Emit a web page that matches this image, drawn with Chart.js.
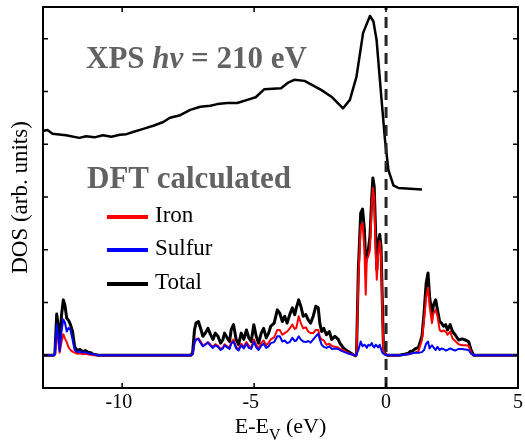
<!DOCTYPE html>
<html>
<head>
<meta charset="utf-8">
<title>DOS</title>
<script src="https://cdn.jsdelivr.net/npm/chart.js"></script>
<style>
    body { margin: 0; background: #fff; }
    canvas { display: block; }
</style>
</head>
<body>
<canvas id="dosChart" width="525" height="443"></canvas>
<script>
// DFT partial / total density of states, common energy grid (eV)
var energy = [
    -13, -12.6, -12.55, -12.48, -12.42, -12.37, -12.30, -12.23, -12.17, -12.10, -12.03, -11.96, -11.88, -11.80, -11.70, -11.60, -11.50, -11.40, -11.30, -11.20, -11.10, -11.00, -10.90,
    -7.40, -7.33, -7.26, -7.20, -7.11, -7.01, -6.94, -6.85, -6.75, -6.65, -6.56, -6.47, -6.37, -6.27, -6.18, -6.12, -6.02, -5.93, -5.87, -5.78, -5.68, -5.59, -5.49, -5.39, -5.29, -5.20, -5.11, -5.01, -4.92, -4.83, -4.73, -4.64, -4.54, -4.45, -4.37, -4.24, -4.12,
    -4.03, -3.93, -3.84, -3.75, -3.65, -3.55, -3.46, -3.40, -3.31, -3.23, -3.14, -3.04, -2.95, -2.86, -2.76, -2.66, -2.57, -2.51, -2.44, -2.36, -2.26, -2.15, -2.06, -1.94, -1.81, -1.75, -1.62, -1.43, -1.24, -1.16,
    -1.12, -1.05, -0.96, -0.89, -0.82, -0.77, -0.73, -0.67, -0.61, -0.54, -0.50, -0.45, -0.39, -0.35, -0.30, -0.24, -0.19, -0.14, -0.10, -0.04,
    0.05, 0.50, 0.70, 0.85, 0.91, 1.00, 1.10, 1.23, 1.36, 1.44, 1.52, 1.59, 1.65, 1.74, 1.80, 1.88, 1.95, 2.03, 2.10, 2.18, 2.26, 2.33, 2.43, 2.52, 2.62, 2.75, 2.88, 3.00, 3.13, 3.22, 3.32, 5.0
];
var iron = [
    0, 0, .02, .45, .28, .05, .25, .40, .32, .25, .15, .10, .07, .05, .03, .04, .02, .03, .02, .01, 0, 0, 0,
    0, .02, .22, .30, .32, .25, .18, .21, .25, .20, .16, .21, .18, .12, .15, .21, .17, .14, .24, .30, .16, .11, .22, .16, .25, .18, .14, .30, .20, .13, .23, .28, .19, .24, .30, .34, .48,
    .48, .39, .42, .45, .51, .58, .50, .52, .74, .61, .51, .53, .45, .42, .42, .48, .48, .35, .30, .28, .20, .22, .18, .16, .15, .12, .10, .04, .01, -.01,
    .01, 1.45, 2.45, 2.50, 2.00, 1.15, 1.81, 1.88, 2.00, 2.85, 3.17, 3.00, 1.90, 1.43, 1.90, 2.16, 1.90, .85, .10, .02,
    0, 0, .01, .02, .03, .04, .05, .08, .29, .67, 1.10, 1.28, .93, .61, .80, .86, .74, .48, .45, .47, .45, .39, .45, .32, .27, .21, .19, .19, .18, .05, 0, 0
];
var sulfur = [
    0, 0, .02, .58, .35, .08, .45, .68, .62, .45, .52, .48, .30, .10, .06, .07, .05, .06, .04, .03, .02, .01, 0,
    0, .02, .24, .30, .31, .22, .17, .20, .24, .18, .14, .19, .16, .10, .13, .19, .15, .12, .22, .26, .13, .09, .19, .13, .22, .14, .12, .26, .15, .10, .18, .22, .14, .17, .23, .25, .36,
    .36, .26, .28, .23, .25, .33, .27, .28, .36, .30, .26, .25, .27, .24, .30, .36, .41, .30, .20, .16, .14, .17, .12, .13, .12, .10, .07, .03, .01, 0,
    .01, .10, .26, .17, .20, .18, .14, .20, .18, .23, .18, .15, .20, .18, .15, .20, .12, .05, .03, .01,
    0, 0, .01, .02, .03, .04, .05, .05, .06, .10, .22, .26, .13, .19, .15, .10, .16, .10, .13, .12, .09, .10, .13, .11, .09, .12, .12, .11, .10, .03, 0, 0
];
var total = [
    0, 0, .03, .78, .55, .15, .75, 1.05, .95, .70, .66, .58, .45, .16, .09, .11, .07, .09, .06, .05, .02, .01, 0,
    0, .05, .48, .61, .64, .48, .36, .42, .51, .39, .30, .42, .36, .23, .30, .42, .33, .26, .48, .58, .30, .20, .42, .30, .48, .33, .26, .58, .36, .23, .42, .51, .33, .42, .55, .61, .86,
    .80, .64, .74, .61, .77, .90, .77, .90, 1.05, .93, .74, .77, .67, .61, .74, .93, .90, .61, .45, .51, .39, .45, .30, .36, .30, .23, .14, .07, .01, -.01,
    .02, 1.62, 2.70, 2.77, 2.38, 1.75, 1.94, 2.00, 2.25, 3.01, 3.36, 3.20, 2.25, 1.62, 2.13, 2.29, 2.06, .99, .17, .03,
    0, 0, .02, .04, .07, .08, .12, .15, .36, .80, 1.37, 1.56, 1.11, .77, .96, 1.05, .86, .64, .61, .55, .58, .48, .58, .45, .39, .29, .31, .29, .26, .10, 0, 0
];

// XPS spectrum (offset upward)
var xpsEnergy = [
    -13.02, -12.83, -12.64, -12.13, -11.62, -11.37, -11.05, -10.73, -10.41, -10.09, -9.84, -9.59, -9.20, -8.82, -8.44, -8.19, -7.80, -7.42, -7.04, -6.66, -6.40, -6.02,
    -5.64, -5.26, -4.94, -4.62, -3.98, -3.73, -3.48, -3.09, -2.46, -2.07, -1.63, -1.37, -1.12, -0.87, -0.61, -0.48, -0.36, -0.17, -0.04, 0.09, 0.28, 0.47, 1.36
];
var xpsIntensity = [
    4.25, 4.27, 4.20, 4.17, 4.12, 4.15, 4.13, 4.17, 4.14, 4.18, 4.19, 4.23, 4.29, 4.35, 4.42, 4.50, 4.55, 4.65, 4.71, 4.73, 4.76, 4.78,
    4.78, 4.84, 4.89, 5.04, 5.06, 5.16, 5.22, 5.20, 5.03, 4.90, 4.68, 4.84, 5.28, 6.11, 6.43, 6.33, 5.98, 4.84, 4.08, 3.51, 3.22, 3.17, 3.14
];

var xTicks = [-10, -5, 0, 5];
var yTicks = [0, 1, 2, 3, 4, 5, 6];
var xRange = [-13, 5];
var yRange = [-0.62, 6.6];

var serif = "'Liberation Serif', 'Times New Roman', serif";

function toPoints(xs, ys) {
    return xs.map(function (x, i) { return { x: x, y: ys[i] }; });
}

// frame, inward ticks, labels, titles, legend and annotations
var decorPlugin = {
    id: 'decor',
    afterDraw: function (chart) {
        var ctx = chart.ctx;
        var a = chart.chartArea;
        var sx = chart.scales.x, sy = chart.scales.y;
        ctx.save();

        ctx.strokeStyle = '#000';
        ctx.lineWidth = 1.5;
        ctx.beginPath();
        xTicks.forEach(function (v) {
            var px = sx.getPixelForValue(v);
            ctx.moveTo(px, a.bottom); ctx.lineTo(px, a.bottom - 5);
            ctx.moveTo(px, a.top); ctx.lineTo(px, a.top + 5);
        });
        yTicks.forEach(function (v) {
            var py = sy.getPixelForValue(v);
            ctx.moveTo(a.left, py); ctx.lineTo(a.left + 5, py);
            ctx.moveTo(a.right, py); ctx.lineTo(a.right - 5, py);
        });
        ctx.stroke();
        ctx.lineWidth = 2;
        ctx.strokeRect(a.left, a.top, a.right - a.left, a.bottom - a.top);

        // x tick labels
        ctx.fillStyle = '#000';
        ctx.font = '20px ' + serif;
        ctx.textAlign = 'center';
        ctx.textBaseline = 'alphabetic';
        var minusHalf = ctx.measureText('-').width / 2;
        xTicks.forEach(function (v) {
            var shift = v < 0 ? minusHalf : 0;
            ctx.fillText(String(v), sx.getPixelForValue(v) - shift, a.bottom + 20);
        });

        // x title with subscript
        var cx = (a.left + a.right) / 2;
        var base = 433;
        ctx.font = '22px ' + serif;
        var p1 = 'E-E', p3 = ' (eV)';
        var w1 = ctx.measureText(p1).width, w3 = ctx.measureText(p3).width;
        ctx.font = '16px ' + serif;
        var w2 = ctx.measureText('V').width;
        var x0 = cx - (w1 + w2 + w3) / 2;
        ctx.textAlign = 'left';
        ctx.font = '22px ' + serif;
        ctx.fillText(p1, x0, base);
        ctx.font = '16px ' + serif;
        ctx.fillText('V', x0 + w1, base + 7);
        ctx.font = '22px ' + serif;
        ctx.fillText(p3, x0 + w1 + w2, base);

        // y title
        ctx.save();
        ctx.translate(27, (a.top + a.bottom) / 2);
        ctx.rotate(-Math.PI / 2);
        ctx.textAlign = 'center';
        ctx.font = '23px ' + serif;
        ctx.fillText('DOS (arb. units)', 0, 0);
        ctx.restore();

        // annotations
        ctx.fillStyle = '#626262';
        ctx.textAlign = 'left';
        var tx = 86;
        ctx.font = 'bold 31px ' + serif;
        ctx.fillText('XPS ', tx, 68);
        tx += ctx.measureText('XPS ').width;
        ctx.font = 'italic bold 31px ' + serif;
        ctx.fillText('hv', tx, 68);
        tx += ctx.measureText('hv').width;
        ctx.font = 'bold 31px ' + serif;
        ctx.fillText(' = 210 eV', tx, 68);
        ctx.fillText('DFT calculated', 87, 188);

        // legend
        var items = [chart.data.datasets[2], chart.data.datasets[1], chart.data.datasets[3]];
        var ly = [217, 250, 284];
        ctx.font = '23px ' + serif;
        ctx.fillStyle = '#000';
        items.forEach(function (ds, i) {
            ctx.strokeStyle = ds.borderColor;
            ctx.lineWidth = 4;
            ctx.beginPath();
            ctx.moveTo(107, ly[i]);
            ctx.lineTo(148, ly[i]);
            ctx.stroke();
            ctx.fillText(ds.label, 155, ly[i] + 5);
        });
        ctx.restore();
    }
};

var ctxDos = document.getElementById('dosChart').getContext('2d');
var dosChart = new Chart(ctxDos, {
    type: 'line',
    data: {
        datasets: [{
            label: 'E_V',
            data: toPoints([0, 0], yRange),
            borderColor: '#262626',
            borderWidth: 3,
            borderDash: [11, 7],
            order: 0
        }, {
            label: 'Sulfur',
            data: toPoints(energy, sulfur),
            borderColor: '#0000ff',
            borderWidth: 2,
            order: 1
        }, {
            label: 'Iron',
            data: toPoints(energy, iron),
            borderColor: '#ff0000',
            borderWidth: 2,
            order: 2
        }, {
            label: 'Total',
            data: toPoints(energy, total),
            borderColor: '#000000',
            borderWidth: 3,
            order: 3
        }, {
            label: 'XPS',
            data: toPoints(xpsEnergy, xpsIntensity),
            borderColor: '#000000',
            borderWidth: 2.5,
            order: 4
        }]
    },
    options: {
        responsive: false,
        animation: false,
        events: [],
        layout: { padding: { left: 43, right: 7, top: 7, bottom: 55 } },
        elements: {
            point: { radius: 0 },
            line: { tension: 0, fill: false, borderJoinStyle: 'round' }
        },
        scales: {
            x: { type: 'linear', min: xRange[0], max: xRange[1], display: false },
            y: { type: 'linear', min: yRange[0], max: yRange[1], display: false }
        },
        plugins: {
            legend: { display: false },
            tooltip: { enabled: false }
        }
    },
    plugins: [decorPlugin]
});
</script>
</body>
</html>
